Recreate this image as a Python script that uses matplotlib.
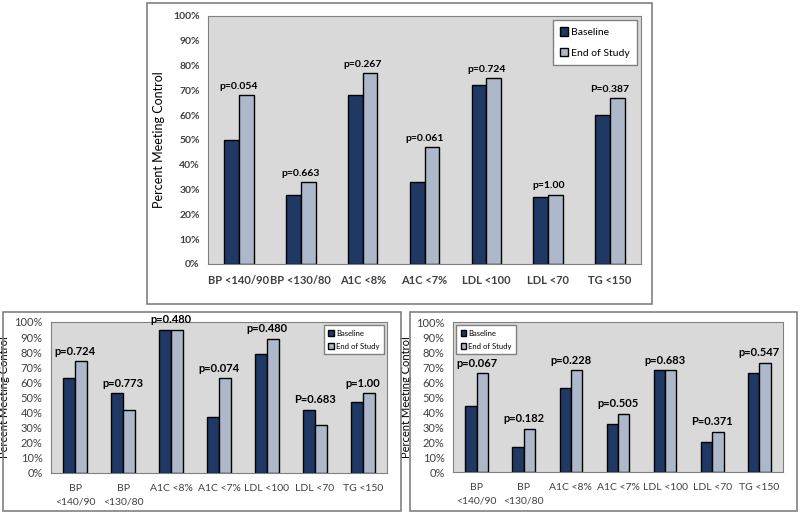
import matplotlib.pyplot as plt
from matplotlib.patches import Rectangle, Patch
import numpy as np

# data
cats_top = ['BP <140/90', 'BP <130/80', 'A1C <8%', 'A1C <7%', 'LDL <100', 'LDL <70', 'TG <150']
cats_bot = ['BP\n<140/90', 'BP\n<130/80', 'A1C <8%', 'A1C <7%', 'LDL <100', 'LDL <70', 'TG <150']

top_base = [50, 28, 68, 33, 72, 27, 60]
top_end = [68, 33, 77, 47, 75, 28, 67]
top_p = ['p=0.054', 'p=0.663', 'p=0.267', 'p=0.061', 'p=0.724', 'p=1.00', 'P=0.387']

left_base = [63, 53, 95, 37, 79, 42, 47]
left_end = [74, 42, 95, 63, 89, 32, 53]
left_p = ['p=0.724', 'p=0.773', 'p=0.480', 'p=0.074', 'p=0.480', 'P=0.683', 'p=1.00']

right_base = [44, 17, 56, 32, 68, 20, 66]
right_end = [66, 29, 68, 39, 68, 27, 73]
right_p = ['p=0.067', 'p=0.182', 'p=0.228', 'p=0.505', 'p=0.683', 'P=0.371', 'p=0.547']

yticks = list(range(0, 101, 10))
ytick_labels = [f'{v}%' for v in yticks]

DARK = '#1f3864'
LIGHT = '#adb9ca'
GRAY_BG = '#d9d9d9'
TXT = '#404040'

plt.rcParams['font.family'] = ['Lato', 'DejaVu Sans']

fig = plt.figure(figsize=(8, 5.14), dpi=100)

# outer frames
for (x, y, w, h) in [(0.18375, 0.4086, 0.63125, 0.5856),
                     (0.00375, 0.0058, 0.4975, 0.387),
                     (0.5125, 0.0058, 0.48375, 0.387)]:
    fig.patches.append(Rectangle((x, y), w, h, transform=fig.transFigure,
                                 fill=False, edgecolor='#808080', linewidth=1.2))


def panel(rect, cats, base, end, plabels, tick_fs, ytick_fs, ylab_fs, tick_bold,
          ytick_bold, leg_loc, leg_fs, p_fs, leg_space, leg_pad, labelpad):
    ax = fig.add_axes(rect)
    ax.set_facecolor(GRAY_BG)
    x = np.arange(len(cats))
    w = 0.24
    ax.bar(x - w / 2, base, w, color=DARK, edgecolor='black', linewidth=1.0, zorder=2)
    ax.bar(x + w / 2, end, w, color=LIGHT, edgecolor='black', linewidth=1.0, zorder=2)
    for i, lab in enumerate(plabels):
        top = max(base[i], end[i])
        ax.annotate(lab, (x[i], top), xytext=(0, 3), textcoords='offset points',
                    ha='center', va='bottom', fontsize=p_fs, fontweight='bold',
                    color='black', annotation_clip=False, zorder=6)
    ax.set_xlim(-0.5, len(cats) - 0.5)
    ax.set_ylim(0, 100)
    ax.set_yticks(yticks)
    ax.set_yticklabels(ytick_labels, fontsize=ytick_fs, color=TXT,
                       fontweight='bold' if ytick_bold else 'normal')
    ax.set_xticks(x)
    ax.set_xticklabels(cats, fontsize=tick_fs, color=TXT,
                       fontweight='bold' if tick_bold else 'normal', linespacing=1.6)
    ax.tick_params(length=0, pad=6)
    ax.tick_params(axis='x', pad=8)
    ax.set_ylabel('Percent Meeting Control', fontsize=ylab_fs, color='black',
                  labelpad=labelpad)
    for s in ax.spines.values():
        s.set_color('#808080')
    handles = [Patch(facecolor=DARK, edgecolor='black', label='Baseline'),
               Patch(facecolor=LIGHT, edgecolor='black', label='End of Study')]
    leg = ax.legend(handles=handles, loc=leg_loc, fontsize=leg_fs, frameon=True,
                    fancybox=False, handlelength=0.7, handleheight=0.9,
                    handletextpad=0.3, labelspacing=leg_space, borderpad=leg_pad,
                    borderaxespad=0.4)
    leg.get_frame().set_edgecolor('#808080')
    leg.get_frame().set_facecolor('white')
    leg.get_frame().set_alpha(1)
    leg.get_frame().set_linewidth(1.0)
    leg.set_zorder(5)
    return ax


panel([0.26, 0.4864, 0.54125, 0.4825], cats_top, top_base, top_end, top_p,
      tick_fs=8, ytick_fs=7.5, ylab_fs=9, tick_bold=True, ytick_bold=True,
      leg_loc='upper right', leg_fs=7.5, p_fs=7.5, leg_space=1.0, leg_pad=0.7,
      labelpad=6)

panel([0.06375, 0.0798, 0.42, 0.2938], cats_bot, left_base, left_end, left_p,
      tick_fs=7.5, ytick_fs=8, ylab_fs=8, tick_bold=False, ytick_bold=False,
      leg_loc='upper right', leg_fs=5.5, p_fs=8, leg_space=0.8, leg_pad=0.6,
      labelpad=3)

panel([0.56625, 0.0817, 0.4125, 0.2918], cats_bot, right_base, right_end, right_p,
      tick_fs=7.5, ytick_fs=8, ylab_fs=8, tick_bold=False, ytick_bold=False,
      leg_loc='upper left', leg_fs=5.5, p_fs=8, leg_space=0.8, leg_pad=0.6,
      labelpad=3)

fig.savefig('out.png', dpi=100, facecolor='white')
